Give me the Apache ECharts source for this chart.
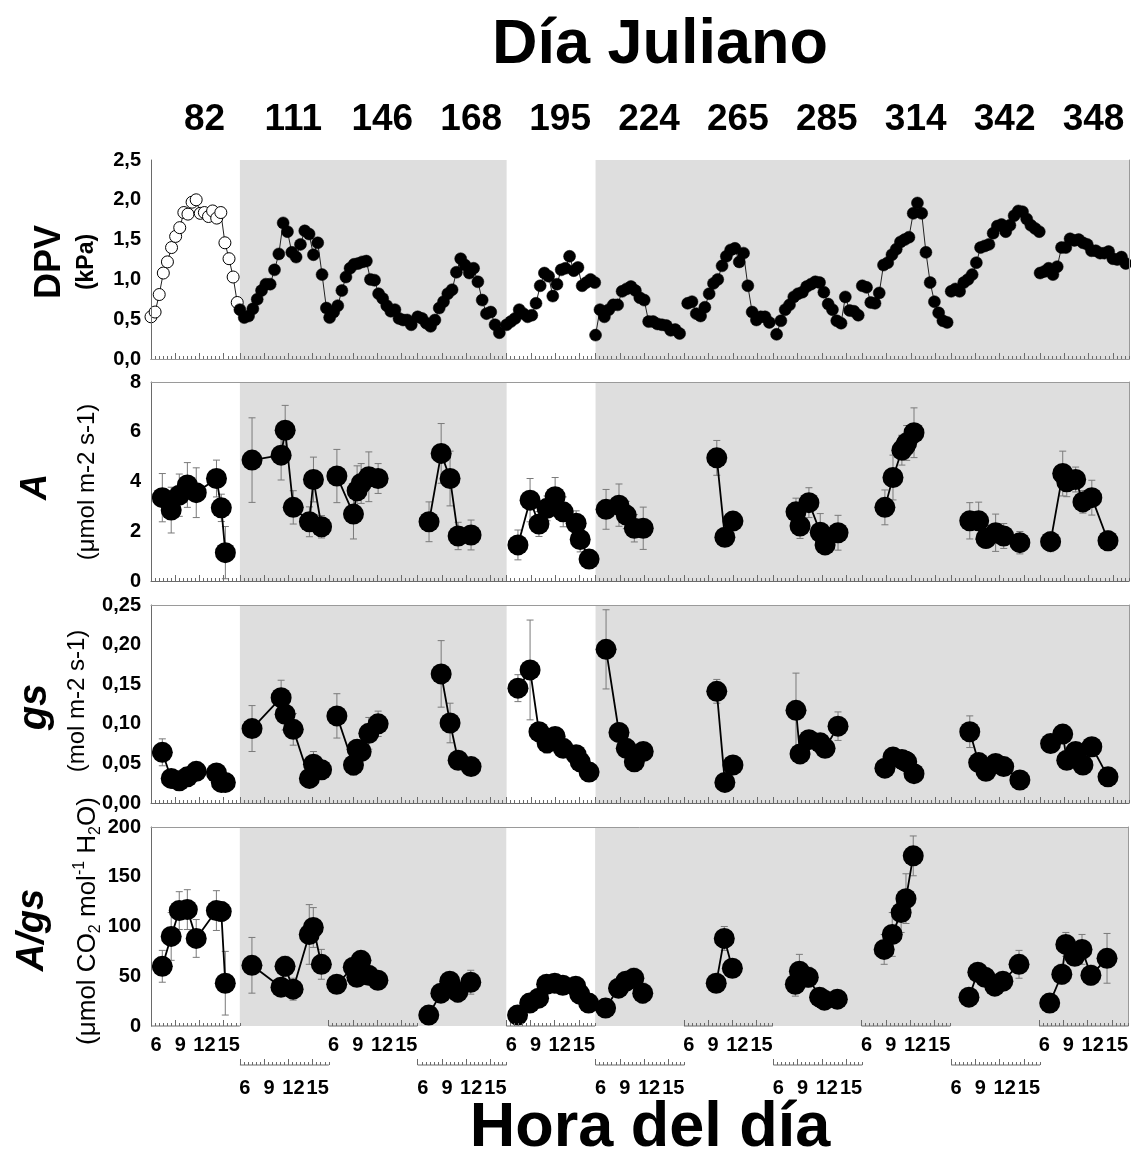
<!DOCTYPE html>
<html><head><meta charset="utf-8">
<script src="https://cdn.jsdelivr.net/npm/echarts@6/dist/echarts.min.js"></script>
<style>html,body{margin:0;padding:0;background:#fff}#c{width:1131px;height:1156px}</style>
</head><body><div id="c"></div>
<script>
// ---------------- DATA ----------------
const dayLabels = ['82','111','146','168','195','224','265','285','314','342','348'];
const hourTickLabels = [6, 9, 12, 15];
const shadedDayRanges = [[1, 3], [5, 10]];

// DPV (kPa): values per day, evenly spaced between first and last hour
const dpvFirstHour = [6.0, 6.0, 6.1, 6.0, 6.0, 6.0, 6.4, 6.4, 6.0, 6.0, 6.0];
const dpvLastHour  = [16.67, 16.7, 16.2, 16.1, 16.9, 16.4, 16.5, 16.5, 16.5, 16.9, 16.6];
const dpvValues = [
  [0.53,0.59,0.81,1.08,1.22,1.40,1.54,1.65,1.84,1.82,1.97,2.00,1.83,1.84,1.79,1.86,1.77,1.84,1.46,1.26,1.03,0.71],
  [0.62,0.52,0.54,0.63,0.75,0.86,0.94,0.94,1.12,1.32,1.71,1.60,1.34,1.28,1.44,1.61,1.57,1.31,1.46,1.06,0.64],
  [0.52,0.59,0.67,0.86,1.03,1.14,1.19,1.20,1.22,1.23,1.00,0.99,0.82,0.76,0.67,0.60,0.62,0.51,0.49,0.49,0.43],
  [0.53,0.51,0.45,0.41,0.49,0.64,0.72,0.82,0.87,1.09,1.26,1.18,1.08,1.14,0.97,0.74,0.57,0.59,0.43,0.33],
  [0.43,0.47,0.51,0.62,0.57,0.53,0.55,0.70,0.92,1.08,1.04,0.79,0.94,1.12,1.14,1.29,1.11,1.15,0.92,0.96,1.00,0.96],
  [0.30,0.62,0.53,0.62,0.68,0.68,0.85,0.88,0.91,0.86,0.77,0.74,0.47,0.47,0.44,0.43,0.42,0.36,0.37,0.32],
  [0.70,0.72,0.57,0.54,0.65,0.82,0.95,1.00,1.17,1.29,1.37,1.39,1.22,1.33,0.92,0.59,0.49,0.53,0.53,0.46],
  [0.31,0.48,0.62,0.68,0.78,0.82,0.84,0.91,0.94,0.97,0.96,0.84,0.69,0.62,0.48,0.45,0.78,0.61,0.60,0.55],
  [0.92,0.90,0.71,0.70,0.83,1.18,1.21,1.31,1.38,1.47,1.50,1.53,1.83,1.96,1.83,1.34,0.96,0.72,0.58,0.48,0.46],
  [0.85,0.88,0.85,0.96,1.00,1.06,1.21,1.40,1.42,1.44,1.58,1.67,1.69,1.60,1.68,1.80,1.86,1.85,1.76,1.68,1.64,1.60],
  [1.08,1.10,1.14,1.06,1.16,1.40,1.40,1.51,1.49,1.50,1.46,1.44,1.36,1.36,1.33,1.33,1.35,1.26,1.25,1.28,1.20]
];

// Gas-exchange sampling hours per day
const sampleHours = [
  [7.4, 8.5, 9.5, 10.5, 11.6, 14.1, 14.7, 15.2],
  [7.5, 11.1, 11.6, 12.6, 14.6, 15.1, 16.1],
  [7.0, 9.05, 9.5, 10.0, 10.95, 12.1],
  [7.4, 8.9, 10.0, 11.0, 12.6],
  [7.4, 8.9, 10.0, 11.0, 12.0, 13.0, 14.6, 15.1, 16.2],
  [7.3, 8.9, 9.8, 10.8, 11.9],
  [10.0, 11.0, 12.0],
  [8.8, 9.3, 10.4, 11.8, 12.4, 14.0],
  [8.8, 9.8, 10.9, 11.3, 11.5, 12.4],
  [8.3, 9.4, 10.3, 11.5, 12.5, 14.5],
  [7.3, 8.8, 9.3, 10.4, 11.3, 12.4, 14.4]
];

// A (umol m-2 s-1)
const aValues = [
  [3.35,2.85,3.45,3.86,3.55,4.12,2.94,1.14],
  [4.86,5.06,6.06,2.96,2.38,4.08,2.18],
  [4.22,2.69,3.63,3.92,4.19,4.12],
  [2.38,5.13,4.12,1.81,1.85],
  [1.45,3.25,2.29,2.92,3.39,2.78,2.32,1.67,0.88],
  [2.88,3.05,2.65,2.12,2.12],
  [4.95,1.76,2.41],
  [2.78,2.21,3.15,1.96,1.45,1.94],
  [2.96,4.16,5.26,5.42,5.55,5.96],
  [2.42,2.42,1.71,1.94,1.81,1.54],
  [1.58,4.32,3.99,4.08,3.18,3.35,1.62]
];
const aErrors = [
  [0.97,0.92,0.85,0.90,1.00,0.74,0.55,1.05],
  [1.70,1.00,1.00,0.67,0.60,0.90,0.45],
  [1.07,1.00,1.00,0.80,1.00,0.60],
  [0.80,1.20,1.10,0.55,0.60],
  [0.60,0.87,0.50,0.50,0.77,0.60,0.50,0.50,0.30],
  [0.80,0.85,0.55,0.55,0.85],
  [0.70,0.20,0.35],
  [0.55,0.50,0.60,0.75,0.20,0.70],
  [0.70,0.90,0.60,0.50,0.70,1.00],
  [0.73,0.75,0.40,0.75,0.50,0.45],
  [0.40,0.90,0.60,0.50,0.45,0.70,0.40]
];

// gs (mol m-2 s-1)
const gsValues = [
  [0.064,0.031,0.028,0.033,0.040,0.038,0.026,0.026],
  [0.094,0.133,0.112,0.093,0.031,0.049,0.042],
  [0.110,0.048,0.068,0.065,0.088,0.100],
  [null,0.163,0.101,0.054,0.046],
  [0.145,0.168,0.090,0.076,0.084,0.069,0.061,0.052,0.039],
  [0.194,0.089,0.069,0.052,0.065],
  [0.141,0.026,0.048],
  [0.117,0.062,0.080,0.076,0.069,0.097],
  [0.044,0.058,0.055,0.053,0.052,0.037],
  [0.090,0.051,0.040,0.050,0.046,0.029],
  [0.075,0.087,0.054,0.065,0.048,0.071,0.033]
];
const gsErrors = [
  [0.017,0.004,0.004,0.010,0.005,0.005,0.004,0.003],
  [0.029,0.022,0.020,0.020,0.005,0.016,0.008],
  [0.028,0.013,0.012,0.010,0.020,0.016],
  [0,0.042,0.025,0.005,0.004],
  [0.017,0.063,0.010,0.013,0.008,0.006,0.005,0.005,0.004],
  [0.050,0.012,0.008,0.006,0.010],
  [0.015,0.003,0.004],
  [0.047,0.011,0.010,0.009,0.010,0.018],
  [0.004,0.006,0.005,0.005,0.005,0.004],
  [0.020,0.007,0.005,0.004,0.005,0.003],
  [0.010,0.010,0.006,0.006,0.004,0.004,0.003]
];

// A/gs (umol CO2 mol-1 H2O)
const wueValues = [
  [60,90,116,117,88,116,115,43],
  [61,39,60,37,92,99,62],
  [42,59,49,66,51,46],
  [11,33,45,34,44],
  [11,23,28,42,43,41,40,32,23],
  [18,38,45,48,33],
  [43,88,58],
  [42,55,49,29,26,27],
  [77,92,114,null,128,171],
  [29,54,49,40,45,62],
  [23,52,82,70,77,51,68]
];
const wueErrors = [
  [16,24,19,20,19,20,10,32],
  [28,5,10,11,30,20,15],
  [4,8,6,8,4,9],
  [2,4,8,10,12],
  [2,3,3,4,3,3,3,4,5],
  [3,7,8,10,10],
  [3,12,4],
  [12,17,10,4,3,5],
  [15,22,20,0,25,20],
  [4,8,5,5,5,14],
  [3,10,12,8,15,10,25]
];

// ---------------- BUILD ----------------
const DAY_HOURS = 11, FIRST_HOUR = 6, NDAYS = 11, XMAX = DAY_HOURS * NDAYS;
const xOf = (d, h) => d * DAY_HOURS + (h - FIRST_HOUR);
const FONT = '"Liberation Sans", Arial, Helvetica, sans-serif';
const axisGray = '#6a6a6a', frameGray = '#9a9a9a', shade = '#dedede', errGray = '#7a7a7a';
const allDays = [...Array(NDAYS).keys()];
const evenDays = allDays.filter(d => d % 2 === 0), oddDays = allDays.filter(d => d % 2 === 1);
const majorVals = days => days.flatMap(d => hourTickLabels.map(h => xOf(d, h)));
const minorVals = days => { const o = []; days.forEach(d => { for (let j = 0; j <= 22; j++) o.push(d * DAY_HOURS + j * 0.5); }); return o; };
const hourFmt = v => String(Math.round(v - DAY_HOURS * Math.floor((v + 1e-6) / DAY_HOURS)) + FIRST_HOUR);

const grids = [
  {left: 151, width: 978, top: 160, height: 199},
  {left: 151, width: 978, top: 382, height: 199},
  {left: 151, width: 978, top: 605, height: 198},
  {left: 151, width: 978, top: 827, height: 199},
  {left: 151, width: 978, top: 1064, height: 1}
];
const yCfg = [
  {min: 0, max: 2.5, interval: 0.5, fmt: v => v.toFixed(1).replace('.', ',')},
  {min: 0, max: 8, interval: 2, fmt: v => String(Math.round(v))},
  {min: 0, max: 0.25, interval: 0.05, fmt: v => v.toFixed(2).replace('.', ',')},
  {min: 0, max: 200, interval: 50, fmt: v => String(Math.round(v))}
];
const hourLabelStyle = {show: true, color: '#000', fontFamily: FONT, fontWeight: 'bold', fontSize: 20, padding: [0, 0, 0, 10]};

const xAxes = [], yAxes = [], mainX = [], mainY = [];
for (let g = 0; g < 4; g++) {
  mainX[g] = xAxes.length;
  xAxes.push({gridIndex: g, type: 'value', min: 0, max: XMAX, position: 'bottom', z: 6,
    axisLine: {show: g !== 3, onZero: false, lineStyle: {color: axisGray, width: 1}},
    axisTick: {show: true, inside: true, length: 6, lineStyle: {color: axisGray}, customValues: majorVals(g === 3 ? evenDays : allDays)},
    axisLabel: g === 3 ? Object.assign({customValues: majorVals(evenDays), formatter: hourFmt, margin: 9}, hourLabelStyle) : {show: false},
    splitLine: {show: false}});
  const minor = {gridIndex: g, type: 'value', min: 0, max: XMAX, position: 'bottom', z: 6,
    axisLine: {show: false}, axisLabel: {show: false}, splitLine: {show: false},
    axisTick: {show: true, inside: true, length: 3, lineStyle: {color: axisGray}}};
  if (g === 3) minor.axisTick.customValues = minorVals(evenDays); else minor.interval = 0.5;
  xAxes.push(minor);
  if (g === 0) {
    xAxes.push({gridIndex: 0, type: 'category', data: dayLabels, position: 'top', boundaryGap: true, z: 6,
      axisLine: {show: true, lineStyle: {color: frameGray}}, axisTick: {show: false},
      axisLabel: {color: '#000', fontFamily: FONT, fontWeight: 'bold', fontSize: 37, margin: 22, padding: [0, 0, 0, 18]}});
  } else {
    xAxes.push({gridIndex: g, type: 'value', min: 0, max: XMAX, position: 'top', z: 6,
      axisLine: {show: true, onZero: false, lineStyle: {color: frameGray}}, axisTick: {show: false}, axisLabel: {show: false}, splitLine: {show: false}});
  }
  mainY[g] = yAxes.length;
  yAxes.push({gridIndex: g, type: 'value', min: yCfg[g].min, max: yCfg[g].max, interval: yCfg[g].interval, z: 6,
    axisLine: {show: true, onZero: false, lineStyle: {color: axisGray}}, axisTick: {show: false}, splitLine: {show: false},
    axisLabel: {formatter: yCfg[g].fmt, color: '#000', fontFamily: FONT, fontWeight: 'bold', fontSize: 20, margin: 10}});
  yAxes.push({gridIndex: g, type: 'value', position: 'right', min: yCfg[g].min, max: yCfg[g].max, z: 6,
    axisLine: {show: true, onZero: false, lineStyle: {color: frameGray}}, axisTick: {show: false}, axisLabel: {show: false}, splitLine: {show: false}});
}
// lower ruler for odd days
mainX[4] = xAxes.length;
xAxes.push({gridIndex: 4, type: 'value', min: 0, max: XMAX, position: 'bottom', z: 6,
  axisLine: {show: false}, splitLine: {show: false},
  axisTick: {show: true, inside: true, length: 6, lineStyle: {color: axisGray}, customValues: majorVals(oddDays)},
  axisLabel: Object.assign({customValues: majorVals(oddDays), formatter: hourFmt, margin: 13}, hourLabelStyle)});
xAxes.push({gridIndex: 4, type: 'value', min: 0, max: XMAX, position: 'bottom', z: 6,
  axisLine: {show: false}, axisLabel: {show: false}, splitLine: {show: false},
  axisTick: {show: true, inside: true, length: 3, lineStyle: {color: axisGray}, customValues: minorVals(oddDays)}});
mainY[4] = yAxes.length;
yAxes.push({gridIndex: 4, type: 'value', min: 0, max: 1, show: false});

const series = [];
// shading
for (let g = 0; g < 4; g++) {
  series.push({type: 'line', xAxisIndex: mainX[g], yAxisIndex: mainY[g], data: [[0, 0]], symbol: 'none',
    lineStyle: {opacity: 0}, silent: true, z: 1, animation: false,
    markArea: {silent: true, itemStyle: {color: shade}, data: shadedDayRanges.map(([a, b]) => [{xAxis: a * DAY_HOURS}, {xAxis: (b + 1) * DAY_HOURS}])}});
}
// axis line segments under even days (bottom panel) and ruler for odd days
evenDays.forEach(d => series.push({type: 'line', xAxisIndex: mainX[3], yAxisIndex: mainY[3], data: [[d * DAY_HOURS, 0], [(d + 1) * DAY_HOURS, 0]],
  symbol: 'none', silent: true, z: 7, clip: false, animation: false, lineStyle: {color: axisGray, width: 1}}));
oddDays.forEach(d => series.push({type: 'line', xAxisIndex: mainX[4], yAxisIndex: mainY[4], data: [[d * DAY_HOURS, 0], [(d + 1) * DAY_HOURS, 0]],
  symbol: 'none', silent: true, z: 7, clip: false, animation: false, lineStyle: {color: axisGray, width: 1}}));

// DPV
dpvValues.forEach((vals, d) => {
  const f = dpvFirstHour[d], l = dpvLastHour[d], n = vals.length;
  const data = vals.map((v, i) => [xOf(d, f + (l - f) * i / (n - 1)), v]);
  series.push({type: 'line', xAxisIndex: mainX[0], yAxisIndex: mainY[0], data, symbol: 'circle', symbolSize: 12,
    showSymbol: true, animation: false, z: 3,
    lineStyle: {color: '#222', width: 1},
    itemStyle: d === 0 ? {color: '#fff', borderColor: '#000', borderWidth: 1} : {color: '#000', borderColor: '#000', borderWidth: 0.5}});
});

function errRender(params, api) {
  const x = api.value(0), lo = api.value(1), hi = api.value(2);
  const pl = api.coord([x, lo]), ph = api.coord([x, hi]);
  const cw = 3.5, st = {stroke: errGray, lineWidth: 1};
  return {type: 'group', children: [
    {type: 'line', shape: {x1: ph[0], y1: ph[1], x2: pl[0], y2: pl[1]}, style: st},
    {type: 'line', shape: {x1: ph[0] - cw, y1: ph[1], x2: ph[0] + cw, y2: ph[1]}, style: st},
    {type: 'line', shape: {x1: pl[0] - cw, y1: pl[1], x2: pl[0] + cw, y2: pl[1]}, style: st}
  ]};
}
function addPanel(g, values, errors) {
  const errData = [];
  values.forEach((vals, d) => vals.forEach((v, i) => {
    if (v == null || !errors[d][i]) return;
    const x = xOf(d, sampleHours[d][i]);
    errData.push([x, Math.max(0, v - errors[d][i]), v + errors[d][i]]);
  }));
  series.push({type: 'custom', xAxisIndex: mainX[g], yAxisIndex: mainY[g], data: errData, renderItem: errRender,
    encode: {x: 0, y: [1, 2]}, z: 2, silent: true, animation: false});
  values.forEach((vals, d) => {
    const data = [];
    vals.forEach((v, i) => { if (v != null) data.push([xOf(d, sampleHours[d][i]), v]); });
    series.push({type: 'line', xAxisIndex: mainX[g], yAxisIndex: mainY[g], data, symbol: 'circle', symbolSize: 21,
      showSymbol: true, animation: false, z: 3,
      lineStyle: {color: '#000', width: 1.8}, itemStyle: {color: '#000'}});
  });
}
addPanel(1, aValues, aErrors);
addPanel(2, gsValues, gsErrors);
addPanel(3, wueValues, wueErrors);

const txt = (x, y, text, size, weight, style, extra) => ({type: 'text', x, y, rotation: Math.PI / 2, z: 20,
  style: Object.assign({text, fill: '#000', fontFamily: FONT, fontSize: size, fontWeight: weight, fontStyle: style || 'normal', align: 'center', verticalAlign: 'middle'}, extra || {})});
const graphic = [
  {type: 'text', x: 660, y: 46, z: 20, style: {text: 'Día Juliano', fill: '#000', fontFamily: FONT, fontSize: 63, fontWeight: 'bold', align: 'center', verticalAlign: 'middle'}},
  {type: 'text', x: 650, y: 1129, z: 20, style: {text: 'Hora del día', fill: '#000', fontFamily: FONT, fontSize: 63, fontWeight: 'bold', align: 'center', verticalAlign: 'middle'}},
  txt(50, 262, 'DPV', 36, 'bold'),
  txt(87, 262, '(kPa)', 23, 'bold'),
  txt(36, 487, 'A', 36, 'bold', 'italic'),
  txt(87, 482, '(μmol m-2 s-1)', 24, 'normal'),
  txt(35, 707, 'gs', 40, 'bold', 'italic'),
  txt(77, 701, '(mol m-2 s-1)', 24, 'normal'),
  txt(33, 930, 'A/gs', 38, 'bold', 'italic'),
  txt(88, 921, '(μmol CO{sub|2} mol{sup|-1} H{sub|2}O)', 26, 'normal', null, {lineHeight: 32,
    rich: {sub: {fontSize: 16, lineHeight: 16, verticalAlign: 'bottom', fontFamily: FONT, fill: '#000'},
           sup: {fontSize: 16, lineHeight: 16, verticalAlign: 'top', fontFamily: FONT, fill: '#000'}}})
];

const chart = echarts.init(document.getElementById('c'));
chart.setOption({animation: false, backgroundColor: '#fff', grid: grids, xAxis: xAxes, yAxis: yAxes, series, graphic});
</script></body></html>
